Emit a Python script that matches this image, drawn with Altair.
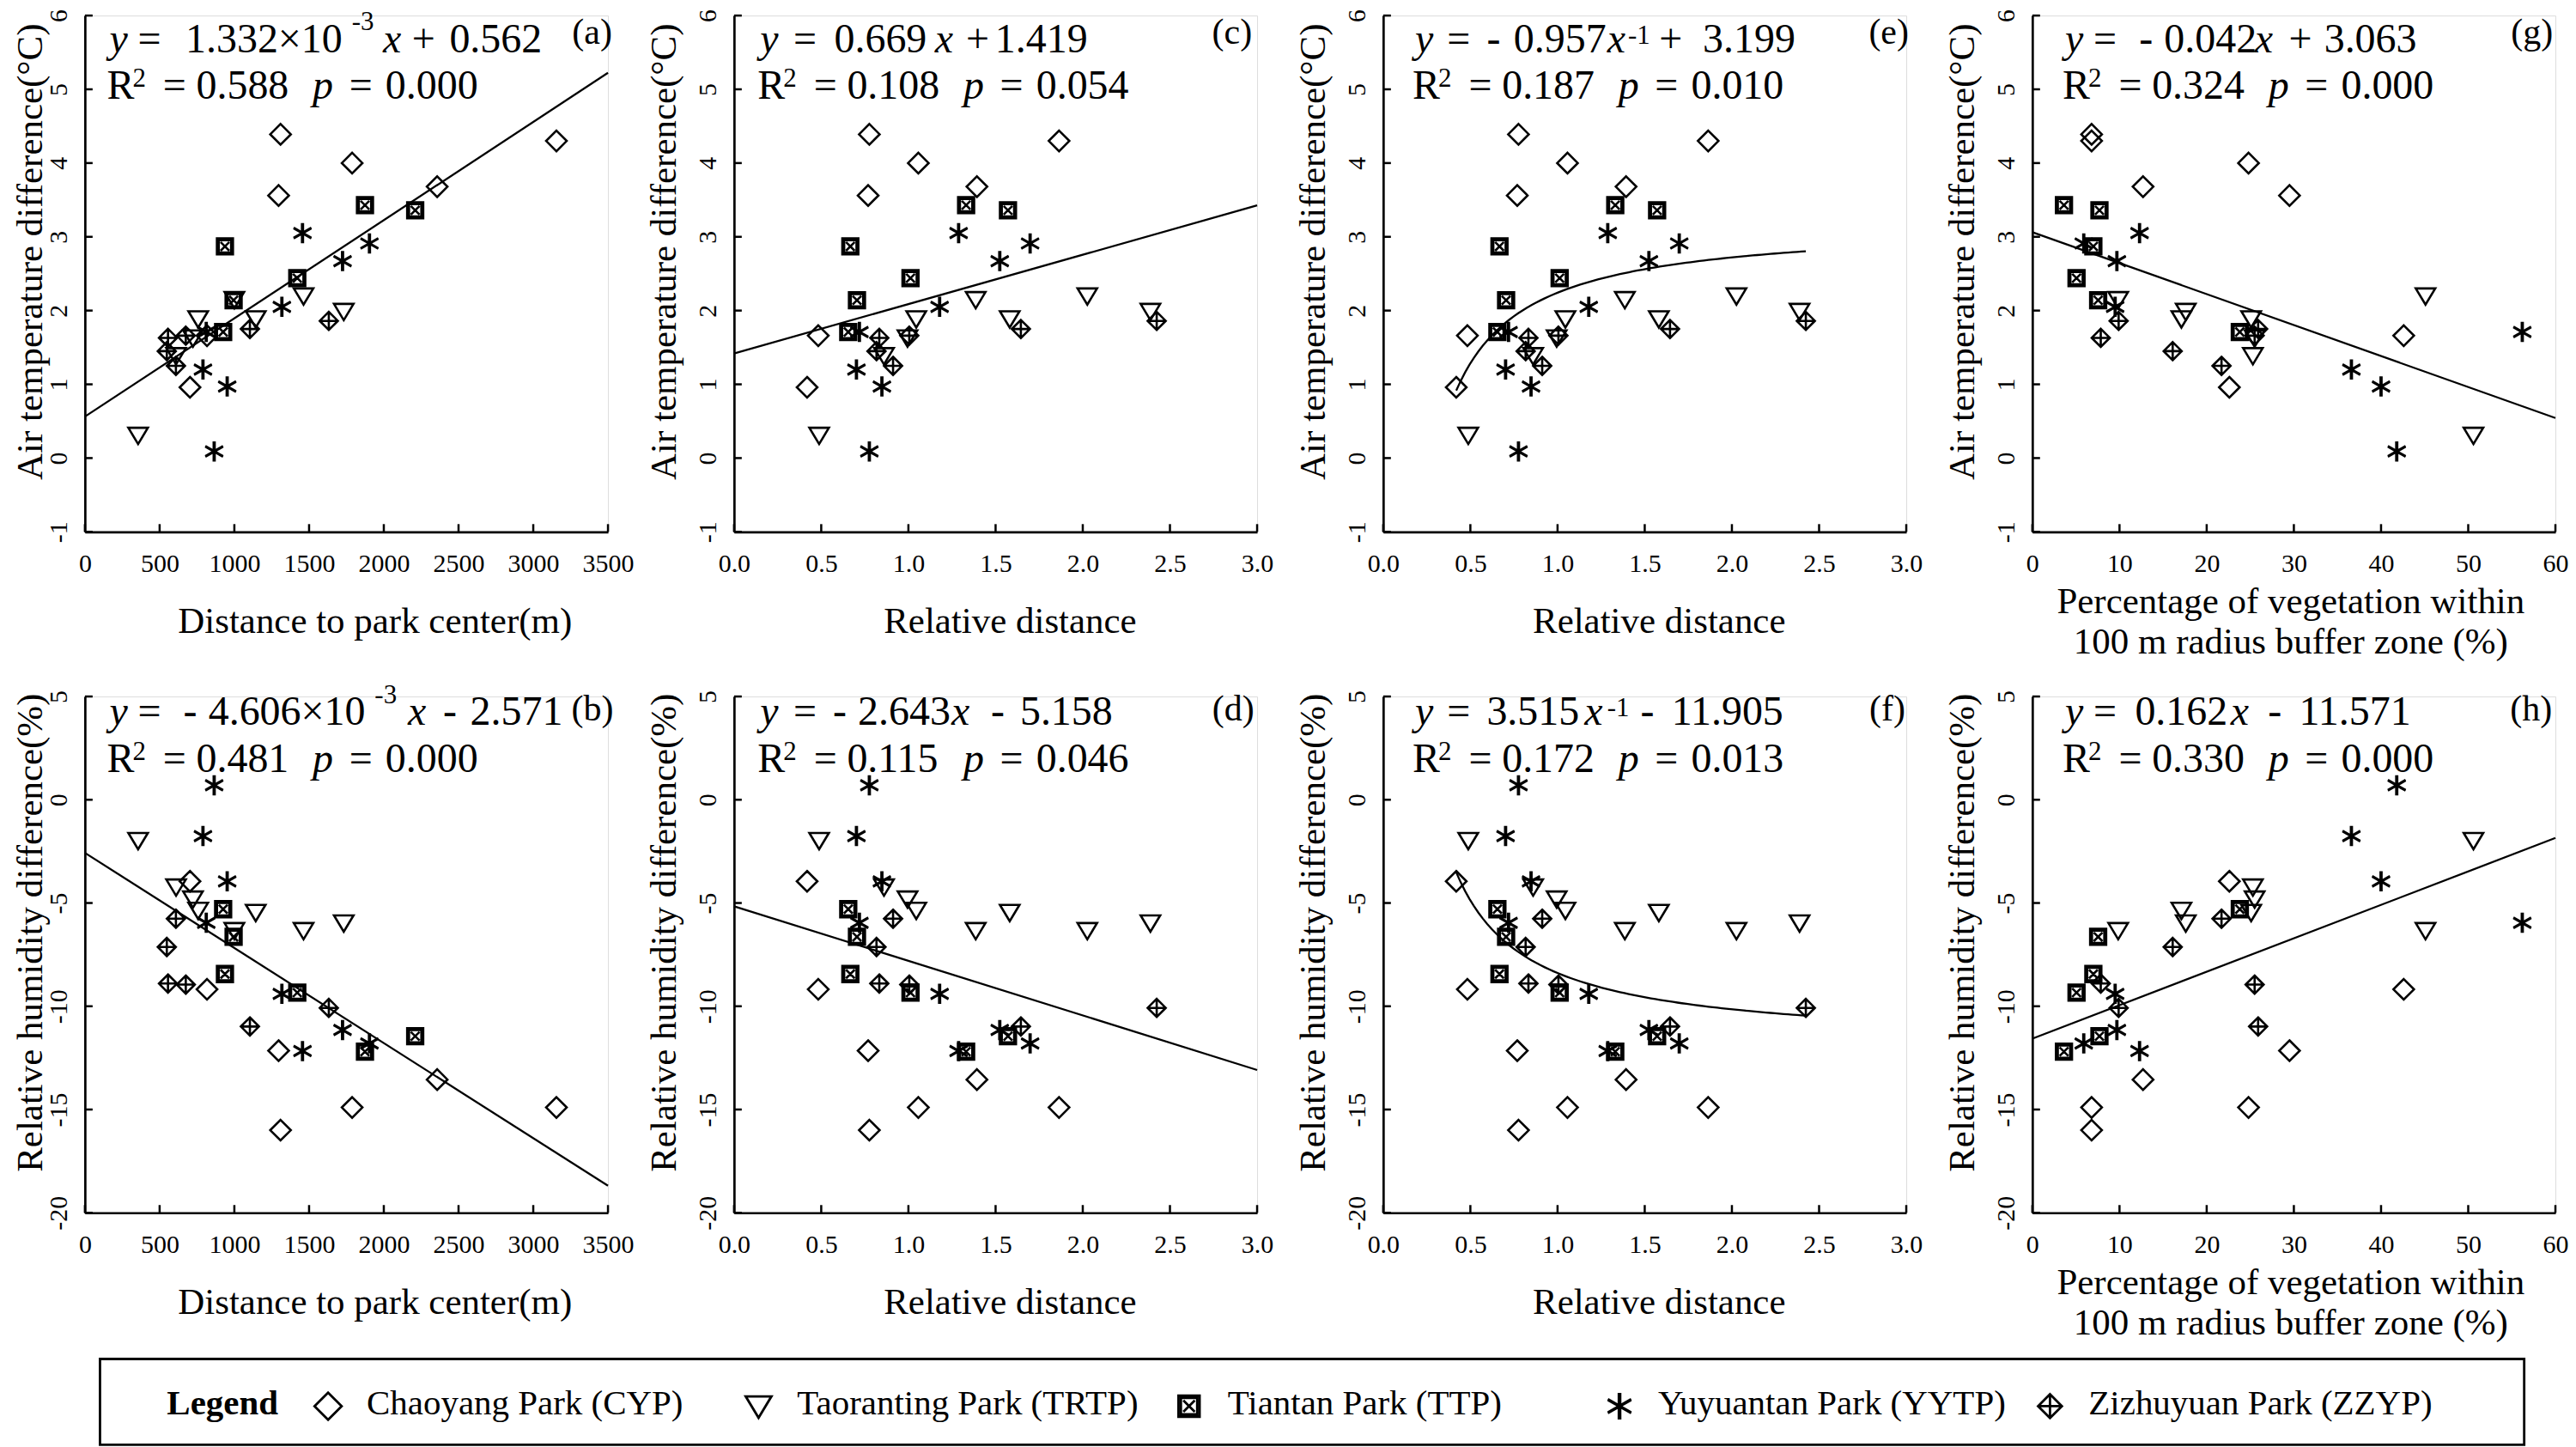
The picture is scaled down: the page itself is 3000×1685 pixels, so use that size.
import altair as alt
import numpy as np
import pandas as pd

FONT = "Liberation Serif"
W, H = 610, 602
ROW_GAP = 192
COL_GAP = 147

# ---------------- data ----------------
parks = ["Chaoyang Park (CYP)", "Taoranting Park (TRTP)", "Tiantan Park (TTP)",
         "Yuyuantan Park (YYTP)", "Zizhuyuan Park (ZZYP)"]

cyp_dist = [703, 817, 1309, 1296, 1788, 2357, 3155]
cyp_rel = [0.419, 0.483, 0.776, 0.769, 1.057, 1.393, 1.864]
cyp_veg = [22.6, 42.6, 6.8, 29.5, 24.8, 12.7, 6.8]
cyp_air = [0.96, 1.66, 4.39, 3.56, 4.00, 3.68, 4.30]
cyp_rh = [-3.95, -9.18, -16.0, -12.15, -14.9, -13.55, -14.9]

trtp_dist = [356, 1463, 1732, 1000, 758, 1143, 610, 723]
trtp_rel = [0.488, 2.026, 2.388, 1.386, 1.045, 1.581, 0.860, 0.995]
trtp_veg = [50.6, 45.1, 17.6, 9.85, 17.1, 25.1, 25.3, 25.5]
trtp_air = [0.31, 2.20, 1.99, 2.15, 1.89, 1.89, 1.39, 1.63]
trtp_rh = [-1.97, -6.33, -5.96, -6.33, -5.35, -5.45, -4.22, -4.80]

ttp_dist = [937, 1874, 2210, 1421, 995, 925]
ttp_rel = [0.667, 1.331, 1.571, 1.012, 0.705, 0.655]
ttp_veg = [7.0, 3.63, 7.7, 5.07, 7.55, 23.8]
ttp_air = [2.87, 3.43, 3.36, 2.44, 2.14, 1.71]
ttp_rh = [-8.44, -12.2, -11.45, -9.34, -6.64, -5.30]

yytp_dist = [865, 790, 952, 812, 1318, 1456, 1724, 1904]
yytp_rel = [0.776, 0.702, 0.848, 0.719, 1.179, 1.288, 1.524, 1.698]
yytp_veg = [41.8, 36.6, 40.0, 56.2, 9.5, 12.3, 9.7, 5.9]
yytp_air = [0.09, 1.20, 0.97, 1.71, 2.05, 3.05, 2.67, 2.91]
yytp_rh = [0.70, -1.76, -3.95, -5.96, -9.40, -12.17, -11.15, -11.80]

zzyp_dist = [609, 548, 556, 675, 1104, 1632]
zzyp_rel = [0.912, 0.817, 0.833, 1.005, 1.645, 2.424]
zzyp_veg = [21.7, 16.1, 7.85, 25.5, 25.9, 9.9]
zzyp_air = [1.25, 1.45, 1.63, 1.66, 1.75, 1.86]
zzyp_rh = [-5.76, -7.13, -8.90, -8.95, -10.98, -10.08]

dist_ticks = [0, 500, 1000, 1500, 2000, 2500, 3000, 3500]
rel_ticks = [0.0, 0.5, 1.0, 1.5, 2.0, 2.5, 3.0]
veg_ticks = [0, 10, 20, 30, 40, 50, 60]
air_ticks = [-1, 0, 1, 2, 3, 4, 5, 6]
rh_ticks = [-20, -15, -10, -5, 0, 5]

# fitted models printed in each panel
fit_kind = {"a": "lin", "b": "lin", "c": "lin", "d": "lin", "e": "inv", "f": "inv", "g": "lin", "h": "lin"}
fit_coef = {"a": 1.332e-3, "b": -4.606e-3, "c": 0.669, "d": -2.643, "e": -0.957, "f": 3.515, "g": -0.042, "h": 0.162}
fit_icpt = {"a": 0.562, "b": -2.571, "c": 1.419, "d": -5.158, "e": 3.199, "f": -11.905, "g": 3.063, "h": -11.571}
r2_txt = {"a": "0.588", "b": "0.481", "c": "0.108", "d": "0.115", "e": "0.187", "f": "0.172", "g": "0.324", "h": "0.330"}
p_txt = {"a": "0.000", "b": "0.000", "c": "0.054", "d": "0.046", "e": "0.010", "f": "0.013", "g": "0.000", "h": "0.000"}

eq_line1 = {
    "a": [("y", "ital", 0), ("=", "reg", 33), ("1.332×10", "reg", 88.7), ("-3", "sup3", 282.6),
          ("x", "ital", 319), ("+", "reg", 352.9), ("0.562", "reg", 396.5)],
    "b": [("y", "ital", 0), ("=", "reg", 33), ("-", "reg", 86.3), ("4.606×10", "reg", 115.4),
          ("-3", "sup3", 309.3), ("x", "ital", 348), ("-", "reg", 389.2), ("2.571", "reg", 420.7)],
    "c": [("y", "ital", 0), ("=", "reg", 38.8), ("0.669", "reg", 86.3), ("x", "ital", 203.6),
          ("+", "reg", 240), ("1.419", "reg", 273.9)],
    "d": [("y", "ital", 0), ("=", "reg", 38.8), ("-", "reg", 84.8), ("2.643", "reg", 113.9),
          ("x", "ital", 223), ("-", "reg", 269), ("5.158", "reg", 303)],
    "e": [("y", "ital", 0), ("=", "reg", 37.3), ("-", "reg", 83.4), ("0.957", "reg", 114.9),
          ("x", "ital", 224), ("-1", "sup1", 248.2), ("+", "reg", 284.5), ("3.199", "reg", 335.4)],
    "f": [("y", "ital", 0), ("=", "reg", 37.3), ("3.515", "reg", 83.4), ("x", "ital", 197.3),
          ("-1", "sup1", 224), ("-", "reg", 262.7), ("11.905", "reg", 299.1)],
    "g": [("y", "ital", 0), ("=", "reg", 33), ("-", "reg", 86.3), ("0.042", "reg", 115.4),
          ("x", "ital", 221), ("+", "reg", 260.8), ("3.063", "reg", 302)],
    "h": [("y", "ital", 0), ("=", "reg", 33), ("0.162", "reg", 81.4), ("x", "ital", 193),
          ("-", "reg", 236.5), ("11.571", "reg", 272.9)],
}
label_dx = {"a": 4.8, "b": 6.3, "c": -5.9, "d": -3.4, "e": 2.9, "f": -1.1, "g": -2.9, "h": -3.9}
SUP_RAISE = {"sup3": 25.7, "sup1": 10, "supR": 14}

# ---------------- build tables ----------------
recs = []
for name, d, r, v, a, h in [
    (parks[0], cyp_dist, cyp_rel, cyp_veg, cyp_air, cyp_rh),
    (parks[1], trtp_dist, trtp_rel, trtp_veg, trtp_air, trtp_rh),
    (parks[2], ttp_dist, ttp_rel, ttp_veg, ttp_air, ttp_rh),
    (parks[3], yytp_dist, yytp_rel, yytp_veg, yytp_air, yytp_rh),
    (parks[4], zzyp_dist, zzyp_rel, zzyp_veg, zzyp_air, zzyp_rh),
]:
    for i in range(len(d)):
        recs.append({"park": name, "dist": d[i], "rel": r[i], "veg": v[i], "air": a[i], "rh": h[i]})
obs = pd.DataFrame(recs)

shape_paths = [
    "M0,-1L1,0L0,1L-1,0Z",
    "M-0.95,-0.72L0.95,-0.72L0,0.86Z",
    "M-0.78,-0.78L0.78,-0.78L0.78,0.78L-0.78,0.78Z M-0.6,-0.6L0.6,-0.6L0.6,0.6L-0.6,0.6Z M-0.42,-0.42L0.42,0.42 M-0.42,0.42L0.42,-0.42",
    "M-0.05,-0.98L-0.05,0.98 M0.05,-0.98L0.05,0.98 M-0.86,-0.52L0.86,0.46 M-0.86,-0.46L0.86,0.52 "
    "M-0.86,0.52L0.86,-0.46 M-0.86,0.46L0.86,-0.52",
    "M0,-0.88L0.88,0L0,0.88L-0.88,0Z M0,-0.88L0,0.88 M-0.88,0L0.88,0",
]
SHAPE = alt.Shape("park:N", scale=alt.Scale(domain=parks, range=shape_paths), legend=None)

cols = [
    dict(xf="dist", xdom=[0, 3500], xticks=dist_ticks, xfmt="'' + datum.value",
         xtitle="Distance to park center(m)", tdx=32.8, tY=117, eqx=28.6, ytx=-50),
    dict(xf="rel", xdom=[0, 3.0], xticks=rel_ticks, xfmt="format(datum.value, '.1f')",
         xtitle="Relative distance", tdx=16.5, tY=117, eqx=30.5, ytx=-68.4),
    dict(xf="rel", xdom=[0, 3.0], xticks=rel_ticks, xfmt="format(datum.value, '.1f')",
         xtitle="Relative distance", tdx=16.3, tY=117, eqx=37.3, ytx=-68.4),
    dict(xf="veg", xdom=[0, 60], xticks=veg_ticks, xfmt="'' + datum.value",
         xtitle=["Percentage of vegetation within", "100 m radius buffer zone (%)"], tdx=-4.1, tY=94, eqx=38.3,
         ytx=-68.4),
]
rows = [
    dict(yf="air", ydom=[-1, 6], yticks=air_ticks, ytitle="Air temperature difference(°C)",
         l1=42.7, l2=97.5, lab=32.8, letters=["a", "c", "e", "g"]),
    dict(yf="rh", ydom=[-20, 5], yticks=rh_ticks, ytitle="Relative humidity difference(%)",
         l1=33.3, l2=88.0, lab=27.5, letters=["b", "d", "f", "h"]),
]


def xenc(c):
    return alt.X(f"{c['xf']}:Q", scale=alt.Scale(domain=c["xdom"], nice=False, zero=False),
                 axis=alt.Axis(values=c["xticks"], labelExpr=c["xfmt"], title=c["xtitle"],
                               titleX=W / 2 + c["tdx"], titleY=c["tY"], titleAlign="center",
                               titleBaseline="alphabetic", titleAngle=0, titleLineHeight=47,
                               titleFont=FONT, titleFontSize=43, titleFontWeight="normal", titleColor="black",
                               labelFont=FONT, labelFontSize=30, labelColor="black",
                               labelBaseline="alphabetic", labelAlign="center", labelPadding=46,
                               labelFlush=False, labelOverlap=False, labelBound=False,
                               ticks=False, tickSize=0, grid=False,
                               domainColor="black", domainWidth=2.7))


def yenc(r, c):
    return alt.Y(f"{r['yf']}:Q", scale=alt.Scale(domain=r["ydom"], nice=False, zero=False),
                 axis=alt.Axis(values=r["yticks"], labelExpr="'' + datum.value", title=r["ytitle"],
                               titleX=c["ytx"], titleY=275, titleAngle=270, titleAlign="center",
                               titleBaseline="alphabetic",
                               titleFont=FONT, titleFontSize=43, titleFontWeight="normal", titleColor="black",
                               labelFont=FONT, labelFontSize=30, labelColor="black",
                               labelAngle=270, labelAlign="center", labelBaseline="alphabetic",
                               labelPadding=21, labelFlush=False, labelOverlap=False, labelBound=False,
                               ticks=False, tickSize=0, grid=False,
                               domainColor="black", domainWidth=2.7))


def text_layer(df, size, style=None, align="left"):
    kw = dict(font=FONT, fontSize=size, align=align, baseline="alphabetic", color="black")
    if style:
        kw["fontStyle"] = style
    return alt.Chart(df).mark_text(**kw).encode(
        x=alt.X("px:Q", scale=None), y=alt.Y("py:Q", scale=None), text="txt:N")


def panel_layers(c, r, letter):
    X, Y = xenc(c), yenc(r, c)
    pts = alt.Chart(obs).mark_point(filled=False, color="black", strokeWidth=2.6, size=576, opacity=1).encode(
        x=X, y=Y, shape=SHAPE)
    a, b = fit_coef[letter], fit_icpt[letter]
    if fit_kind[letter] == "lin":
        xs = np.array(c["xdom"], dtype=float)
        ys = a * xs + b
    else:
        xs = np.linspace(min(obs["rel"]), max(obs["rel"]), 80)
        ys = a / xs + b
    fit = alt.Chart(pd.DataFrame({c["xf"]: xs, r["yf"]: ys})).mark_line(
        color="black", strokeWidth=2.3).encode(x=X, y=Y)
    xt = alt.Chart(pd.DataFrame({c["xf"]: c["xticks"]})).mark_rule(color="black", strokeWidth=2.5).encode(
        x=X, y=alt.value(H), y2=alt.value(H - 9))
    yt = alt.Chart(pd.DataFrame({r["yf"]: r["yticks"]})).mark_rule(color="black", strokeWidth=2.5).encode(
        y=Y, x=alt.value(0), x2=alt.value(9))

    groups = {"reg": [], "ital": [], "sup": []}
    x0 = c["eqx"]
    for txt, sty, off in eq_line1[letter]:
        if sty.startswith("sup"):
            groups["sup"].append({"px": x0 + off, "py": r["l1"] - SUP_RAISE[sty], "txt": txt})
        else:
            groups[sty].append({"px": x0 + off, "py": r["l1"], "txt": txt})
    x1 = x0 - 3
    line2 = [("R", "reg", 0), ("2", "supR", 30), ("=", "reg", 65.4), (r2_txt[letter], "reg", 104.2),
             ("p", "ital", 240), ("=", "reg", 282.6), (p_txt[letter], "reg", 324.8)]
    for txt, sty, off in line2:
        if sty.startswith("sup"):
            groups["sup"].append({"px": x1 + off, "py": r["l2"] - SUP_RAISE[sty], "txt": txt})
        else:
            groups[sty].append({"px": x1 + off, "py": r["l2"], "txt": txt})

    return alt.layer(pts, fit, xt, yt,
                     text_layer(pd.DataFrame(groups["reg"]), 48),
                     text_layer(pd.DataFrame(groups["ital"]), 48, style="italic"),
                     text_layer(pd.DataFrame(groups["sup"]), 31),
                     text_layer(pd.DataFrame([{"px": W + label_dx[letter], "py": r["lab"],
                                               "txt": f"({letter})"}]), 42, align="right"))


# ---------------- legend (drawn below the bottom row, attached to panel b) ----------------
one = pd.DataFrame({"k": [0]})
leg_df = pd.DataFrame({"park": parks})
LTOP = H + ROW_GAP - 21.5          # top of the legend frame, relative to panel (b)
LX = alt.X("park:N", scale=alt.Scale(type="point", domain=parks, range=[283.6, 2291.6], padding=0), axis=None)
box = alt.Chart(one).mark_rect(filled=False, color="black", strokeWidth=2.8).encode(
    x=alt.value(17.6), x2=alt.value(2844.6), y=alt.value(LTOP), y2=alt.value(LTOP + 100))
leg_title = alt.Chart(one).mark_text(text="Legend", font=FONT, fontSize=41, fontWeight="bold", align="left",
                                     baseline="alphabetic", color="black").encode(
    x=alt.value(95.6), y=alt.value(LTOP + 65))
leg_sym = alt.Chart(leg_df).mark_point(filled=False, color="black", size=1000, strokeWidth=2.8, opacity=1).encode(
    x=LX, y=alt.value(LTOP + 55), shape=SHAPE)
leg_lab = alt.Chart(leg_df).mark_text(font=FONT, fontSize=41, align="left", baseline="alphabetic", dx=45,
                                      color="black").encode(x=LX, y=alt.value(LTOP + 65), text="park:N")
legend = alt.layer(box, leg_title, leg_sym, leg_lab)

cells = []
for r in rows:
    for i, c in enumerate(cols):
        letter = r["letters"][i]
        lay = panel_layers(c, r, letter)
        if letter == "b":
            lay = alt.layer(lay, legend).resolve_scale(x="independent")
        cells.append(lay.properties(width=W, height=H))

chart = alt.concat(*cells, columns=4, spacing={"row": ROW_GAP, "column": COL_GAP}, bounds="flush").properties(
    padding={"left": 6, "top": 0, "right": 0, "bottom": 0}
).configure_view(strokeWidth=0).configure(background="white")

chart.save("out.html", embed_options={"renderer": "svg", "actions": False})
